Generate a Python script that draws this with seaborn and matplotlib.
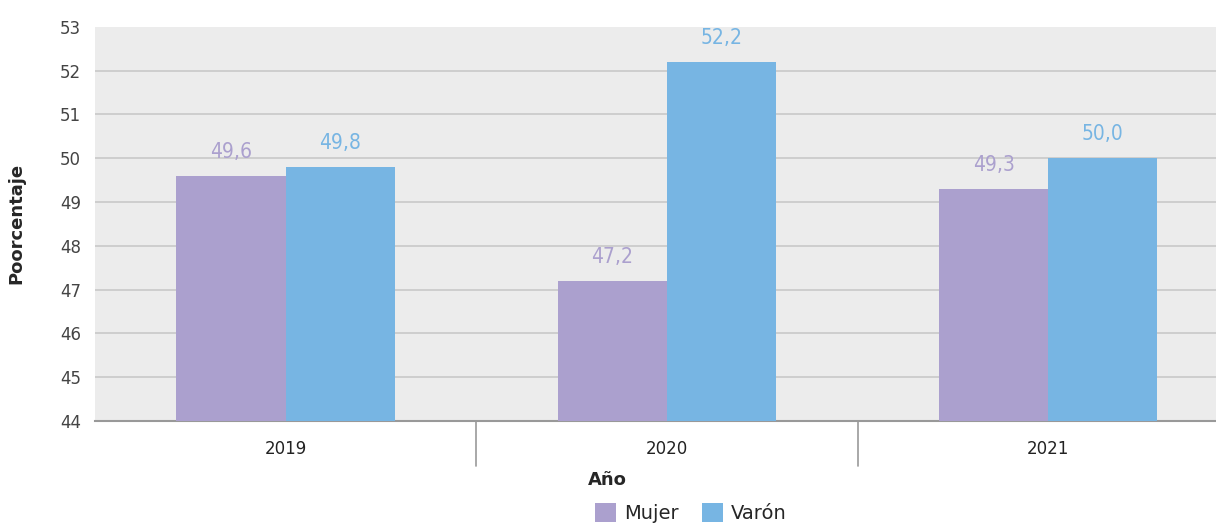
import pandas as pd
import seaborn as sns
import matplotlib.pyplot as plt
from matplotlib.patches import Patch

years = ['2019', '2020', '2021']
mujer = [49.6, 47.2, 49.3]
varon = [49.8, 52.2, 50.0]
series = ['Mujer', 'Varón']
colors = ['#ABA0CE', '#77B5E3']

df = pd.DataFrame({
    'year': years * 2,
    'value': mujer + varon,
    'sexo': ['Mujer'] * 3 + ['Varón'] * 3,
})

sns.set_style('white')
plt.rcParams['font.family'] = ['DejaVu Sans']

fig = plt.figure(figsize=(12.16, 5.25), dpi=100)
ax = fig.add_axes([0.078, 0.198, 0.922, 0.751])
ax.set_facecolor('#ECECEC')

sns.barplot(data=df, x='year', y='value', hue='sexo', palette=colors,
            width=0.572, saturation=1, ax=ax, legend=False, zorder=3,
            linewidth=0)

ax.set_ylim(44, 53)
ax.set_yticks(range(44, 54))
ax.set_xlim(-0.5, 2.44)
ax.yaxis.grid(True, color='#C8C8C8', linewidth=1.2, zorder=0)
ax.get_ygridlines()[-1].set_visible(False)
ax.set_axisbelow(True)
for s in ['top', 'right', 'left']:
    ax.spines[s].set_visible(False)
ax.spines['bottom'].set_color('#999999')
ax.spines['bottom'].set_linewidth(1.5)

# value labels
for cont, col in zip(ax.containers, colors):
    labels = [f'{v:.1f}'.replace('.', ',') for v in cont.datavalues]
    ax.bar_label(cont, labels=labels, padding=10, color=col, fontsize=15,
                 fontstretch='condensed')

ax.tick_params(axis='y', length=0, labelsize=12, labelcolor='#444444', pad=10)
ax.tick_params(axis='x', length=0, labelsize=12, labelcolor='#222222', pad=14)
ax.set_xticks([0, 1, 2])
ax.set_xticklabels(years)

# category separators
for xs in [0.5, 1.5]:
    ax.plot([xs, xs], [0, -0.113], transform=ax.get_xaxis_transform(),
            color='#999999', linewidth=1.2, clip_on=False)

ax.set_xlabel('Año', fontsize=13, fontweight='bold')
ax.set_ylabel('Poorcentaje', fontsize=13, fontweight='bold')
ax.xaxis.set_label_coords(0.457, -0.127)
ax.yaxis.set_label_coords(-0.062, 0.5)

handles = [Patch(facecolor=c, edgecolor='none', label=s) for s, c in zip(series, colors)]
fig.legend(handles=handles, loc='lower center', ncol=2, frameon=False,
           bbox_to_anchor=(0.568, -0.03), fontsize=14, handlelength=1.1,
           handleheight=1.1, columnspacing=1.2, handletextpad=0.4)

fig.savefig('out.png', dpi=100)
